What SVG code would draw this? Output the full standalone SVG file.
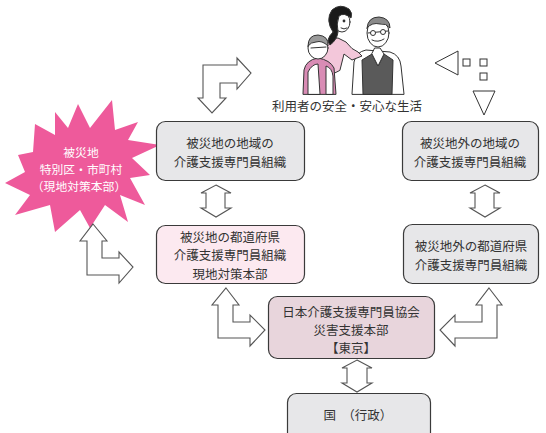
<svg xmlns="http://www.w3.org/2000/svg" width="546" height="433" viewBox="0 0 546 433">
  <defs>
    <style>
      .box { stroke: #3a3a3a; stroke-width: 1.2; }
      .gray { fill: #e7e7e9; }
      .pink { fill: #fce9f0; }
      .hq { fill: #e8d5dc; }
      .lbl { font-family: "Noto Sans CJK JP", "Noto Sans", sans-serif; font-size: 12.5px; fill: #333; text-anchor: middle; }
      .burst-lbl { font-family: "Noto Sans CJK JP", "Noto Sans", sans-serif; font-size: 11.8px; fill: #ffffff; text-anchor: middle; }
      .arrow { fill: #ffffff; stroke: #555; stroke-width: 1.1; stroke-linejoin: miter; }
      .ink { stroke: #333; stroke-width: 1; stroke-linejoin: round; stroke-linecap: round; }
    </style>
  </defs>
  <rect width="546" height="433" fill="#ffffff"/>

  <!-- people illustration -->
  <g id="people">
    <!-- man -->
    <path class="ink" fill="#ffffff" d="M352,94 L354,62 Q356,52 366,50 L390,52 Q400,55 401,66 L404,94 Z"/>
    <path class="ink" fill="#5a5a5a" d="M363,94 L362,60 L372,54 L378,66 L384,54 L393,60 L392,94 Z"/>
    <path class="ink" fill="#ffffff" d="M372,54 L378,66 L384,54 L380,48 L375,48 Z"/>
    <ellipse class="ink" cx="378" cy="33" rx="11" ry="14" fill="#ffffff"/>
    <path class="ink" fill="#8a8a8a" d="M367,28 Q368,17 379,17 Q390,18 390,28 Q386,23 380,24 Q372,22 367,28 Z"/>
    <path class="ink" fill="none" d="M368,33 L388,31 M372,40 Q378,43 384,39"/>
    <circle cx="373" cy="33" r="2.5" fill="#ffffff" stroke="#333"/>
    <circle cx="383" cy="32" r="2.5" fill="#ffffff" stroke="#333"/>
    <!-- caregiver -->
    <path class="ink" fill="#f3c7da" d="M320,80 L322,48 Q326,38 338,38 L346,42 Q352,50 358,52 L362,56 L352,60 L344,54 L340,70 Z"/>
    <ellipse class="ink" cx="342" cy="22" rx="8" ry="10" fill="#ffffff"/>
    <path class="ink" fill="#1a1a1a" d="M333,32 Q325,20 332,10 Q340,3 349,9 Q353,13 351,18 Q344,12 339,16 Q336,24 338,32 Q337,40 330,45 Q325,40 333,32 Z"/>
    <circle cx="344" cy="21" r="1.4" fill="#333"/>
    <path class="ink" fill="none" d="M341,28 Q344,30 347,28"/>
    <!-- elderly woman -->
    <path class="ink" fill="#d98cb5" d="M303,94 L304,70 Q306,60 318,58 Q330,60 334,68 L336,94 Z"/>
    <path class="ink" fill="#ffffff" d="M308,94 L308,72 Q312,64 318,64 L320,94 Z M326,94 L326,66 Q332,68 333,76 L333,94 Z"/>
    <ellipse class="ink" cx="318" cy="48" rx="10" ry="11" fill="#ffffff"/>
    <path class="ink" fill="#9a9a9a" d="M308,46 Q308,35 318,35 Q329,36 328,46 Q322,40 316,42 Q311,42 308,46 Z"/>
    <path class="ink" fill="none" d="M311,48 L326,47"/>
  </g>

  <text class="lbl" x="347" y="111">利用者の安全・安心な生活</text>

  <!-- small symbols at top right -->
  <g id="symbols" fill="#ffffff" stroke="#333" stroke-width="1">
    <polygon points="435,63 458,51 458,75"/>
    <rect x="463" y="59" width="7" height="7"/>
    <rect x="480" y="59" width="7" height="7"/>
    <rect x="480" y="73" width="7" height="7"/>
    <polygon points="473,91 495,91 484,115"/>
  </g>

  <!-- disaster area starburst -->
  <g id="burst">
    <polygon fill="#ee5a9b" points="78,104 90,128 112,100 115,130 138,122 128,140 160,145 132,158 150,175 130,178 145,205 120,195 128,222 105,205 90,228 80,210 55,232 50,205 15,215 30,195 5,183 25,172 18,155 33,152 35,124 55,135 55,112 68,128"/>
    <text class="burst-lbl" x="81" y="157">被災地</text>
    <text class="burst-lbl" x="81" y="174">特別区・市町村</text>
    <text class="burst-lbl" x="79" y="191">（現地対策本部）</text>
  </g>

  <!-- organisations -->
  <g id="local-in">
    <rect class="box gray" x="156.5" y="121.5" width="148" height="59" rx="9"/>
    <text class="lbl" x="230" y="147.5">被災地の地域の</text>
    <text class="lbl" x="230" y="166.5">介護支援専門員組織</text>
  </g>
  <g id="local-out">
    <rect class="box gray" x="402.5" y="121.5" width="136" height="59" rx="9"/>
    <text class="lbl" x="470" y="147.5">被災地外の地域の</text>
    <text class="lbl" x="470" y="166.5">介護支援専門員組織</text>
  </g>
  <g id="pref-in">
    <rect class="box pink" x="156.5" y="225.5" width="148" height="58" rx="9"/>
    <text class="lbl" x="230" y="242">被災地の都道府県</text>
    <text class="lbl" x="230" y="260.3">介護支援専門員組織</text>
    <text class="lbl" x="230" y="278.6">現地対策本部</text>
  </g>
  <g id="pref-out">
    <rect class="box gray" x="403.5" y="224.5" width="135" height="59" rx="9"/>
    <text class="lbl" x="471" y="251">被災地外の都道府県</text>
    <text class="lbl" x="471" y="270">介護支援専門員組織</text>
  </g>
  <g id="jcma">
    <rect class="box hq" x="268.5" y="296.5" width="166" height="62" rx="9"/>
    <text class="lbl" x="351" y="316.5">日本介護支援専門員協会</text>
    <text class="lbl" x="351" y="334.8">災害支援本部</text>
    <text class="lbl" x="351" y="353.1">【東京】</text>
  </g>
  <g id="state">
    <rect class="box gray" x="287.5" y="393.5" width="143" height="50" rx="9"/>
    <text class="lbl" x="358" y="420">国　（行政）</text>
  </g>

  <!-- connectors -->
  <g id="connectors">
    <polygon class="arrow" points="203,65 237,65 237,58 251,73 237,89 237,83 220,83 220,98 226,98 212,113 198,98 203,98"/>
    <polygon class="arrow" points="93,224 107,241 102,241 102,258 119,258 119,252 133,267 119,283 119,275 87,275 87,241 80,241"/>
    <polygon class="arrow" points="216,185 231,193 225,193 225,208 231,208 216,217 201,208 206,208 206,193 201,193"/>
    <polygon class="arrow" points="485,185 500,193 494,193 494,208 500,208 485,217 470,208 475,208 475,193 470,193"/>
    <polygon class="arrow" points="226,288 239,305 233,305 233,322 250,322 250,315 265,330 250,346 250,338 218,338 218,305 212,305"/>
    <polygon class="arrow" points="489,288 502,305 497,305 497,338 455,338 455,346 440,330 455,315 455,322 482,322 482,305 476,305"/>
    <polygon class="arrow" points="357,360 372,368 367,368 367,383 372,383 357,392 342,383 347,383 347,368 342,368"/>
  </g>
</svg>
